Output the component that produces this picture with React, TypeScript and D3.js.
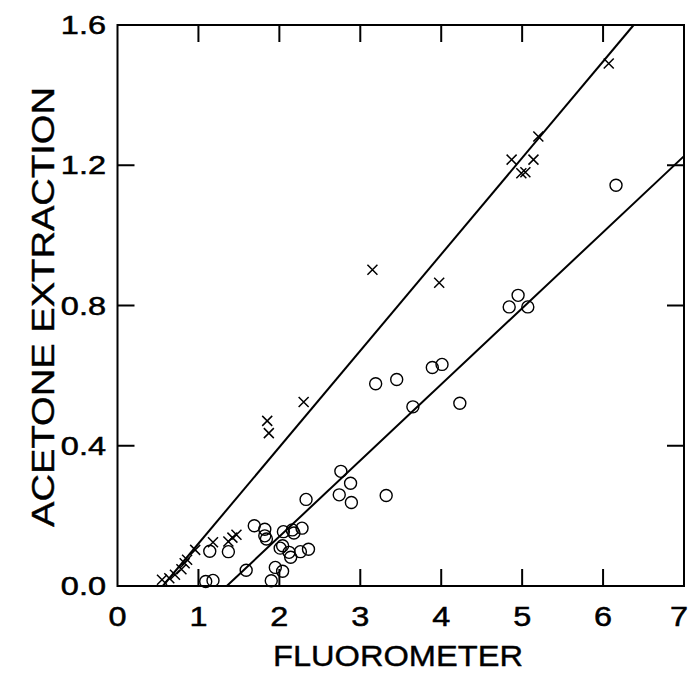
import React from "react";
import * as d3 from "d3";

const xTicks = [0, 1, 2, 3, 4, 5, 6, 7];
const yTicks = [0, 0.4, 0.8, 1.2, 1.6];
const yTickLabels = ["0.0", "0.4", "0.8", "1.2", "1.6"];

const crossX = [0.55, 0.64, 0.71, 0.79, 0.83, 0.86, 0.96, 1.18, 1.37, 1.42, 1.47, 1.85, 1.87, 2.3, 3.15, 3.975, 4.87, 4.99, 5.04, 5.14, 5.2, 6.07];
const crossY = [0.018, 0.022, 0.032, 0.048, 0.065, 0.075, 0.103, 0.125, 0.127, 0.138, 0.146, 0.471, 0.436, 0.525, 0.902, 0.865, 1.216, 1.177, 1.18, 1.216, 1.282, 1.49];

const circleX = [1.09, 1.18, 1.14, 1.37, 1.59, 1.69, 1.82, 1.82, 1.84, 1.9, 1.95, 2.01, 2.04, 2.04, 2.05, 2.12, 2.14, 2.16, 2.18, 2.26, 2.28, 2.33, 2.36, 2.74, 2.76, 2.88, 2.89, 3.19, 3.32, 3.45, 3.65, 3.89, 4.01, 4.23, 4.84, 4.95, 5.07, 6.16];
const circleY = [0.013, 0.016, 0.099, 0.098, 0.045, 0.172, 0.162, 0.143, 0.134, 0.015, 0.053, 0.108, 0.115, 0.042, 0.155, 0.096, 0.082, 0.16, 0.151, 0.098, 0.165, 0.247, 0.105, 0.26, 0.327, 0.293, 0.238, 0.577, 0.258, 0.589, 0.511, 0.623, 0.632, 0.521, 0.796, 0.829, 0.796, 1.143];

// regression lines: [slope, intercept]
const crossFit = [0.275, -0.154];
const circleFit = [0.217, -0.293];

const W = 691;
const H = 675;
const left = 117.5;
const right = 684;
const top = 25;
const bottom = 586;
const TICK = 17;
const FONT = "'Liberation Sans', Arial, Helvetica, sans-serif";

export default function App() {
  const x = d3.scaleLinear().domain([0, 7]).range([left, right]);
  const y = d3.scaleLinear().domain([0, 1.6]).range([bottom, top]);

  const fitSegment = (fit: number[]) => {
    const [m, b] = fit;
    let x0 = -b / m;
    let x1 = (1.6 - b) / m;
    if (x1 > 7) x1 = 7;
    if (x0 < 0) x0 = 0;
    const line = d3.line<number>().x((d) => x(d)).y((d) => y(m * d + b));
    return line([x0, x1]) || "";
  };

  const innerX = xTicks.slice(1, -1);
  const innerY = yTicks.slice(1, -1);

  return (
    <svg width={W} height={H} style={{ position: "absolute", left: 0, top: 0, background: "#fff" }}>
      <rect x={0} y={0} width={W} height={H} fill="#fff" />
      <rect x={left} y={top} width={right - left} height={bottom - top} fill="none" stroke="#000" strokeWidth={2} />
      {innerX.map((t) => (
        <g key={"xt" + t}>
          <line x1={x(t)} x2={x(t)} y1={bottom} y2={bottom - TICK} stroke="#000" strokeWidth={2} />
          <line x1={x(t)} x2={x(t)} y1={top} y2={top + TICK} stroke="#000" strokeWidth={2} />
        </g>
      ))}
      {innerY.map((t) => (
        <g key={"yt" + t}>
          <line x1={left} x2={left + TICK} y1={y(t)} y2={y(t)} stroke="#000" strokeWidth={2} />
          <line x1={right} x2={right - TICK} y1={y(t)} y2={y(t)} stroke="#000" strokeWidth={2} />
        </g>
      ))}
      {xTicks.map((t, i) => (
        <text
          key={"xl" + t}
          transform={`translate(${Math.min(x(t), 679)},${626}) scale(1.2,1)`}
          textAnchor="middle"
          fontFamily={FONT}
          fontSize={27}
          fill="#000"
          stroke="#000"
          strokeWidth={0.5}
        >
          {t}
        </text>
      ))}
      {yTicks.map((t, i) => (
        <text
          key={"yl" + t}
          transform={`translate(${106},${y(t) + 9}) scale(1.3,1)`}
          textAnchor="end"
          fontFamily={FONT}
          fontSize={25}
          fill="#000"
          stroke="#000"
          strokeWidth={0.5}
        >
          {yTickLabels[i]}
        </text>
      ))}
      <text
        x={273}
        y={666}
        fontFamily={FONT}
        fontSize={30}
        textLength={250}
        lengthAdjust="spacingAndGlyphs"
        fill="#000"
        stroke="#000"
        strokeWidth={0.4}
      >
        FLUOROMETER
      </text>
      <text
        transform={`translate(${54},${307}) rotate(-90)`}
        textAnchor="middle"
        fontFamily={FONT}
        fontSize={31}
        textLength={440}
        lengthAdjust="spacingAndGlyphs"
        fill="#000"
        stroke="#000"
        strokeWidth={0.4}
      >
        ACETONE EXTRACTION
      </text>
      <path d={fitSegment(crossFit)} fill="none" stroke="#000" strokeWidth={2} />
      <path d={fitSegment(circleFit)} fill="none" stroke="#000" strokeWidth={2} />
      {circleX.map((cx, i) => (
        <circle key={"c" + i} cx={x(cx)} cy={y(circleY[i])} r={6} fill="none" stroke="#000" strokeWidth={1.4} />
      ))}
      {crossX.map((cx, i) => {
        const px = x(cx);
        const py = y(crossY[i]);
        const s = 5;
        return (
          <path
            key={"x" + i}
            d={`M${px - s},${py - s}L${px + s},${py + s}M${px - s},${py + s}L${px + s},${py - s}`}
            stroke="#000"
            strokeWidth={1.5}
            fill="none"
          />
        );
      })}
    </svg>
  );
}
